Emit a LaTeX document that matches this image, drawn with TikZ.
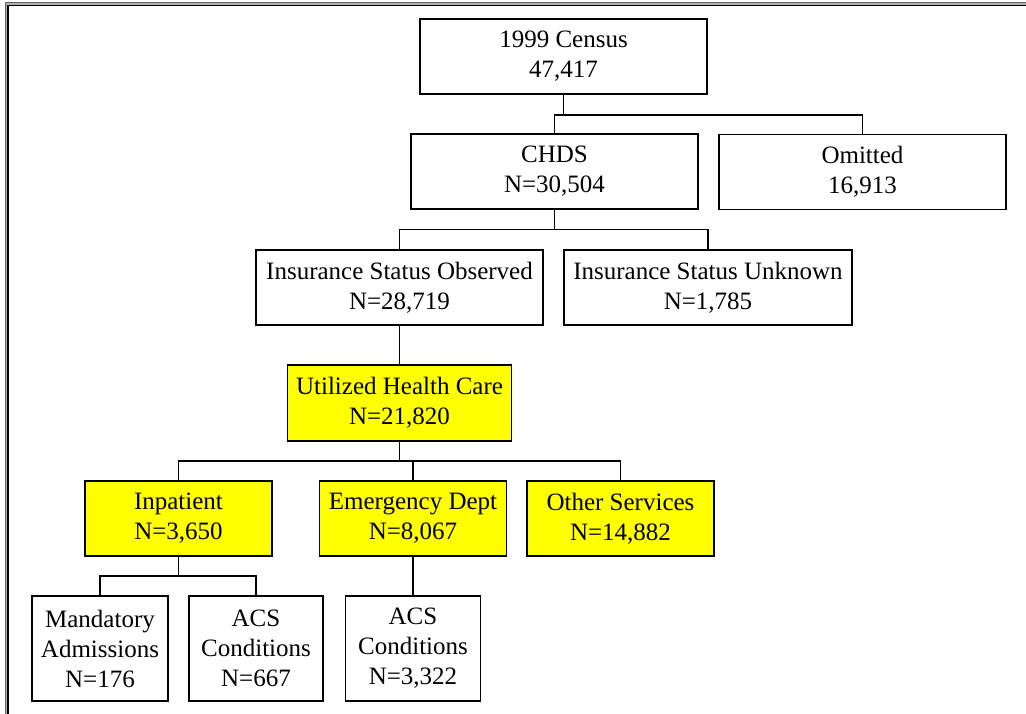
\documentclass[tikz,border=0pt]{standalone}
\usepackage{fontspec}
\setmainfont{Liberation Serif}
\definecolor{boxyellow}{HTML}{FFFF00}
\definecolor{framedark}{HTML}{666666}
\definecolor{framelight}{HTML}{B0B0B0}
\tikzset{
  box/.style={draw=black, line width=1.3pt, fill=white, align=center, inner sep=0pt,
    font=\fontsize{25}{30}\selectfont},
  hl/.style={box, fill=boxyellow},
  link/.style={draw=black, line width=1.3pt},
}
\begin{document}
\begin{tikzpicture}[x=1pt,y=-1pt]
\useasboundingbox (0,0) rectangle (1026,714);
% frame
\draw[framedark, line width=1.2pt] (5.5,714) -- (5.5,2.5) -- (1026,2.5);
\draw[framelight, line width=1.3pt] (6.8,714) -- (6.8,3.9) -- (1026,3.9);
\draw[black, line width=1.2pt] (8,714) -- (8,5.2) -- (1026,5.2);
% nodes
\node[box, minimum width=287pt, minimum height=75pt] (census) at (563.5,56.5) {1999 Census\\47,417};
\node[box, minimum width=287pt, minimum height=75pt] (chds) at (554.5,171.5) {CHDS\\N=30,504};
\node[box, minimum width=287pt, minimum height=75pt] (omit) at (862.5,172) {Omitted\\16,913};
\node[box, minimum width=287pt, minimum height=75pt] (obs) at (399.5,287.5) {Insurance Status Observed\\N=28,719};
\node[box, minimum width=288pt, minimum height=75pt] (unk) at (708,287.5) {Insurance Status Unknown\\N=1,785};
\node[hl, minimum width=224pt, minimum height=76pt] (util) at (399.5,403) {Utilized Health Care\\N=21,820};
\node[hl, minimum width=187pt, minimum height=75pt] (inp) at (178.5,518.5) {Inpatient\\N=3,650};
\node[hl, minimum width=187pt, minimum height=75pt] (ed) at (413,518.5) {Emergency Dept\\N=8,067};
\node[hl, minimum width=187pt, minimum height=75pt] (oth) at (620.5,518.5) {Other Services\\N=14,882};
\node[box, minimum width=136pt, minimum height=105pt] (mand) at (100,648.5) {Mandatory\\Admissions\\N=176};
\node[box, minimum width=134pt, minimum height=105pt] (acsa) at (256,648.5) {ACS\\Conditions\\N=667};
\node[box, minimum width=135pt, minimum height=105pt] (acsb) at (413,648.5) {ACS\\Conditions\\N=3,322};
% junctions
\coordinate (j1) at (563.5,115);
\coordinate (j2) at (554.5,229.5);
\coordinate (j4) at (399.5,461);
\coordinate (j5) at (178.5,576);
% connectors
\draw[link] (census.south) -- (j1);
\draw[link] (chds.north) |- (omit.north |- j1) -- (omit.north);
\draw[link] (chds.south) -- (j2);
\draw[link] (obs.north) |- (unk.north |- j2) -- (unk.north);
\draw[link] (obs.south) -- (util.north);
\draw[link] (util.south) -- (j4);
\draw[link] (inp.north) |- (oth.north |- j4) -- (oth.north);
\draw[link] (ed.north) -- (ed.north |- j4);
\draw[link] (inp.south) -- (j5);
\draw[link] (mand.north) |- (acsa.north |- j5) -- (acsa.north);
\draw[link] (ed.south) -- (acsb.north);
\end{tikzpicture}
\end{document}
